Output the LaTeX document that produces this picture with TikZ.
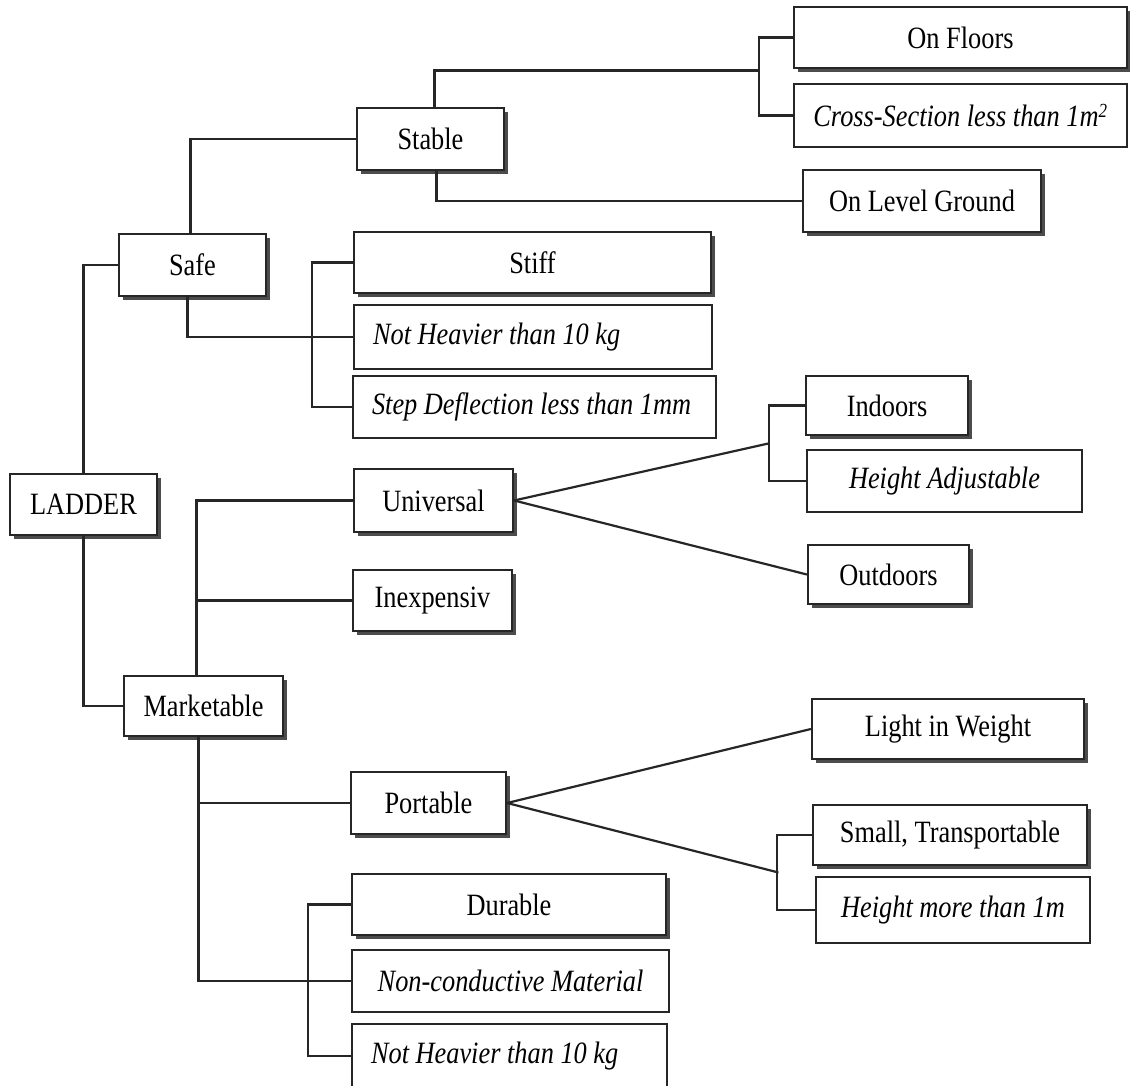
\documentclass[tikz,border=0pt]{standalone}
\usepackage{fontspec}
\setmainfont{Liberation Serif}[FakeStretch=0.85]
\usetikzlibrary{shadows, calc}

\begin{document}
\begin{tikzpicture}[
    x=1pt, y=-1pt,
    font=\fontsize{31}{36}\selectfont,
    size/.style 2 args={minimum width=#1pt, minimum height=#2pt},
    box/.style={rectangle, draw=black!85, fill=white, inner sep=0pt, line width=2.2pt,
                drop shadow={shadow xshift=4pt, shadow yshift=-4pt, fill=black!70, opacity=1}},
    flatbox/.style={rectangle, draw=black!85, fill=white, inner sep=0pt, line width=2pt},
    leftbox/.style={flatbox, inner xsep=19pt},
    link/.style={draw=black!85, line width=2.2pt}
]
\useasboundingbox[fill=white] (0,0) rectangle (1130,1086);

% root and first level
\node[box, size={147}{61}] (ladder) at (83.5,504.5) {LADDER};
\node[box, size={147}{62}] (safe) at (192.5,265) {Safe};
\node[box, size={159}{60}] (market) at (203.5,706) {Marketable};

% safe branch
\node[box, size={147}{62}] (stable) at (430.5,139) {Stable};
\node[box, size={333}{61}] (floors) at (960.5,37.5) {On Floors};
\node[flatbox, size={333}{63}] (cross) at (960.5,115.5) {\textit{Cross-Section less than 1m\textsuperscript{\fontsize{20}{20}\selectfont 2}}};
\node[box, size={238}{62}] (level) at (922,201) {On Level Ground};
\node[box, size={357}{61}] (stiff) at (532.5,262.5) {Stiff};
\node[leftbox, size={358}{64}] (heavy) at (533,337) {\makebox[320pt][l]{\textit{Not Heavier than 10 kg}}};
\node[leftbox, size={363}{62}] (deflect) at (534.5,407) {\makebox[325pt][l]{\textit{Step Deflection less than 1mm}}};

% marketable branch
\node[box, size={159}{63}] (universal) at (433.5,500.5) {Universal};
\node[box, size={162}{59}] (indoors) at (887,405.5) {Indoors};
\node[flatbox, size={275}{62}] (adjust) at (944.5,481) {\textit{Height Adjustable}};
\node[box, size={161}{59}] (outdoors) at (888.5,574.5) {Outdoors};
\node[box, size={159}{61}] (cheap) at (432.5,600.5) {Inexpensiv};
\node[box, size={155}{62}] (portable) at (428.5,803) {Portable};
\node[box, size={272}{60}] (light) at (948,729) {Light in Weight};
\node[box, size={274}{60}] (small) at (950,835) {Small, Transportable};
\node[flatbox, size={274}{66}] (tall) at (953,910) {\textit{Height more than 1m}};
\node[box, size={314}{61}] (durable) at (509,904.5) {Durable};
\node[flatbox, size={317}{62}] (nonc) at (510.5,981) {\textit{Non-conductive Material}};
\node[leftbox, size={315}{64}] (heavyb) at (509.5,1056) {\makebox[277pt][l]{\textit{Not Heavier than 10 kg}}};

% bracket joints
\coordinate (fjoint) at ($(floors.west)!0.5!(cross.west) + (-34,-6)$);
\coordinate (ujoint) at ($(indoors.west)!0.5!(adjust.west) + (-36,0)$);
\coordinate (pjoint) at ($(small.west)!0.5!(tall.west) + (-35,0)$);

% connectors
\draw[link] (ladder.north) |- (safe.west);
\draw[link] (ladder.south) |- (market.west);
\draw[link] ([xshift=-2pt]safe.north) |- (stable.west);
\draw[link] ([xshift=-5pt]safe.south) |- (heavy.west);
\draw[link] (stiff.west) -- ++(-41,0) |- (deflect.west);
\draw[link] ([xshift=4pt]stable.north) |- (fjoint);
\draw[link] (floors.west) -- ++(-34,0) |- (cross.west);
\draw[link] ([xshift=6pt]stable.south) |- (level.west);

\draw[link] ([xshift=-7pt]market.north) |- (universal.west);
\draw[link] ([xshift=-7pt]market.north |- cheap.west) -- (cheap.west);
\draw[link] ([xshift=-5pt]market.south) |- (nonc.west);
\draw[link] ([xshift=-5pt]market.south |- portable.west) -- (portable.west);
\draw[link] (durable.west) -- ++(-43,0) |- (heavyb.west);

\draw[link] (universal.east) -- (ujoint);
\draw[link] (indoors.west) -- ++(-36,0) |- (adjust.west);
\draw[link] (universal.east) -- (outdoors.west);
\draw[link] (portable.east) -- (light.west);
\draw[link] (portable.east) -- (pjoint);
\draw[link] (small.west) -- ++(-35,0) |- (tall.west);

\end{tikzpicture}
\end{document}
